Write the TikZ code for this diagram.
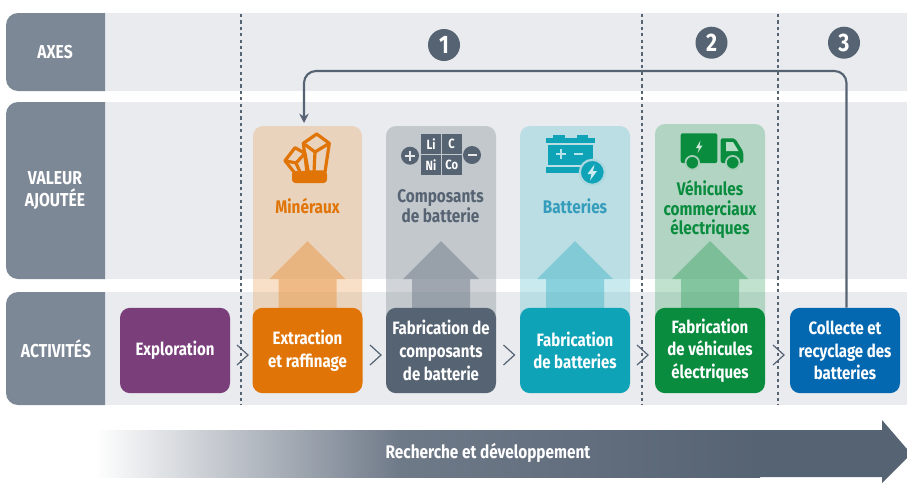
\documentclass[tikz,border=0pt]{standalone}
\usepackage{fontspec}
\setmainfont{Fira Sans}[FakeStretch=0.84]
\usetikzlibrary{arrows.meta}
\definecolor{bandbg}{HTML}{E9EBEE}
\definecolor{rowlab}{HTML}{7D8896}
\definecolor{slate}{HTML}{566372}
\definecolor{cpurple}{HTML}{7A3F7B}
\definecolor{corange}{HTML}{E07406}
\definecolor{cteal}{HTML}{0FA3B8}
\definecolor{cgreen}{HTML}{0A8C3F}
\definecolor{cblue}{HTML}{0468B1}
\definecolor{cmid}{HTML}{6F7A89}
\definecolor{tbat}{HTML}{359DBB}
\tikzset{
  x=0.75pt,y=-0.75pt,
  rowband/.style={fill=bandbg},
  rowlabel/.style={fill=rowlab},
  rowtext/.style={text=white,font=\fontsize{14}{16}\selectfont\bfseries,align=center,inner sep=0},
  actbox/.style={rounded corners=7.5pt,minimum width=82.5pt,minimum height=64pt,inner sep=0,text=white,
     font=\fontsize{13.4}{17}\selectfont\bfseries,align=center},
  panel/.style={rounded corners=7.5pt,fill opacity=.36},
  uparrow/.style={fill opacity=.5},
  valtext/.style={font=\fontsize{13.7}{14.8}\selectfont\bfseries,align=center,inner sep=0},
  sep/.style={draw=slate,line width=.8pt,dash pattern=on 2.4pt off 2.4pt},
  chev/.style={draw=slate,line width=.9pt,fill=none},
  numdot/.style={circle,fill=slate,minimum size=24pt,inner sep=0,text=white,font=\fontsize{19}{19}\selectfont\bfseries},
  loopline/.style={draw=slate,line width=1.6pt,rounded corners=9pt,-{Stealth[length=7pt,width=7pt]}},
}
\begin{document}
\begin{tikzpicture}
\useasboundingbox (0,0) rectangle (907,483);
\fill[white] (0,0) rectangle (907,483);
% row bands
\fill[rowband] (105,13) rectangle (907,91);
\fill[rowband] (105,102) rectangle (907,279);
\fill[rowband] (105,292) rectangle (907,405);
\fill[rowlabel] (105,13) [rounded corners=9pt] -- (6,13) -- (6,91) [sharp corners] -- (105,91) -- cycle;
\fill[rowlabel] (105,102) [rounded corners=9pt] -- (6,102) -- (6,279) [sharp corners] -- (105,279) -- cycle;
\fill[rowlabel] (105,292) [rounded corners=9pt] -- (6,292) -- (6,405) [sharp corners] -- (105,405) -- cycle;
\node[rowtext] (laxes) at (55,52) {AXES};
\node[rowtext] (lval) at (55,190.5) {VALEUR\\AJOUTÉE};
\node[rowtext] (lact) at (56,349) {ACTIVITÉS};
% panels and up arrows
\fill[panel,fill=corange!62] (253,126) rectangle (362,330);
\fill[panel,fill=slate!75] (386,126) rectangle (496,330);
\fill[panel,fill=cteal!62] (520,126) rectangle (630,330);
\fill[panel,fill=cgreen!70] (655,124) rectangle (765,330);
\foreach \cx/\col in {307.5/corange!75,441/slate!85,575/cteal!75,710/cgreen!75}{
  \fill[uparrow,fill=\col] (\cx,241) -- (\cx+38,279) -- (\cx+29,279) -- (\cx+29,330) -- (\cx-29,330) -- (\cx-29,279) -- (\cx-38,279) -- cycle;
}
% separators
\coordinate (s1a) at (241,14); \coordinate (s1b) at (241,405);
\coordinate (s2a) at (642,14); \coordinate (s2b) at (642,405);
\coordinate (s3a) at (778,14); \coordinate (s3b) at (778,405);
\draw[sep] (s1a) -- (s1b);
\draw[sep] (s2a) -- (s2b);
\draw[sep] (s3a) -- (s3b);
% activity boxes
\node[actbox,fill=cpurple] (expl) at (175,350.5) {Exploration};
\node[actbox,fill=corange] (extr) at (307.5,350.5) {Extraction\\et raffinage};
\node[actbox,fill=slate] (comp) at (441,350.5) {Fabrication de\\composants\\de batterie};
\node[actbox,fill=cteal] (batt) at (575,350.5) {Fabrication\\de batteries};
\node[actbox,fill=cgreen] (vehi) at (710,350.5) {Fabrication\\de véhicules\\électriques};
\node[actbox,fill=cblue] (coll) at (845,350.5) {Collecte et\\recyclage des\\batteries};
% chevrons
\foreach \xx in {237,370,503.5,637,773}{
  \draw[chev] (\xx,345) -- (\xx+11,355) -- (\xx,365);
}
% numbers
\node[numdot] (n1) at (444,45) {1};
\node[numdot] (n2) at (711.5,42.7) {2};
\node[numdot] (n3) at (844,42.7) {3};
% loop connector
\coordinate (ctop) at (846.5,71);
\coordinate (cmin) at (304,123);
\draw[loopline] (coll.north -| ctop) -- (ctop) -- (ctop -| cmin) -- (cmin);
% value labels
\node[valtext,text=corange] (tmin) at (307.5,206) {Minéraux};
\node[valtext,text=slate] (tcomp) at (440.5,206.5) {Composants\\de batterie};
\node[valtext,text=tbat] (tbatt) at (575,206.5) {Batteries};
\node[valtext,text=cgreen] (tveh) at (710,209.5) {Véhicules\\commerciaux\\électriques};
% mineral icon
\begin{scope}[draw=corange,line width=2.4pt,line join=round]
  \draw (316.7,134) -- (329.3,143.3) -- (325,172) -- (307,172) -- (303.3,143.3) -- cycle;
  \draw (303.3,143.3) -- (315,152) -- (329.3,143.3);
  \draw (315,152) -- (314,172);
  \draw (295,147.7) -- (305,153.3) -- (308.3,172) -- (295,173.3) -- (285,160.7) -- cycle;
  \draw (285,160.7) -- (296,163) -- (305,153.3);
  \draw (296,163) -- (300,172);
  \fill[corange,rounded corners=2.5pt] (292,171) rectangle (327,183);
\end{scope}
% Li C Ni Co icon
\begin{scope}
  \fill[slate] (421,133.5) rectangle (441,154);
  \fill[slate] (442,133.5) rectangle (461.5,154);
  \fill[slate] (421,155) rectangle (441,175);
  \fill[slate] (442,155) rectangle (461.5,175);
  \foreach \cx/\cy/\t/\nm in {431/143.7/Li/cli,451.7/143.7/C/cc,431/165/Ni/cni,451.7/165/Co/cco}{
    \node[text=white,inner sep=0,font=\fontsize{10}{10}\selectfont\bfseries] (\nm) at (\cx,\cy) {\t};
  }
  \fill[slate] (410,155.7) circle (9);
  \fill[slate] (472,155) circle (9);
  \fill[white!85!slate] (405,154.7) rectangle (415,156.7);
  \fill[white!85!slate] (409,150.7) rectangle (411,160.7);
  \fill[white!85!slate] (467.5,154) rectangle (476.5,156);
\end{scope}
% battery icon
\begin{scope}
  \fill[cteal] (546,138.3) rectangle (595,142.7);
  \fill[cteal] (552.7,135) rectangle (565,138.3);
  \fill[cteal] (576.7,135) rectangle (588,138.3);
  \fill[cteal] (548.3,145) rectangle (592.7,165);
  \fill[cteal] (546,167.3) rectangle (582,172.7);
  \fill[white!70!cteal] (556,152.7) rectangle (566,155.3);
  \fill[white!70!cteal] (559.7,149) rectangle (562.3,159);
  \fill[white!70!cteal] (574,152.7) rectangle (583,155.3);
  \fill[cteal,draw=cteal!28!bandbg,line width=1.6pt] (592.3,172.3) circle (12.5);
  \fill[white!80!cteal] (594.5,164.5) -- (587.5,174) -- (591.5,174) -- (590,180.5) -- (597,171) -- (593,171) -- cycle;
\end{scope}
% truck icon
\begin{scope}
  \fill[cgreen,rounded corners=1.5pt] (680.7,133.3) rectangle (717.3,163);
  \fill[cgreen,rounded corners=1.5pt] (720.7,138.3) -- (735,138.3) -- (743.3,151.7) -- (743.3,163) -- (720.7,163) -- cycle;
  \fill[white!70!cgreen] (726,142) -- (733,142) -- (738.5,151) -- (726,151) -- cycle;
  \fill[cgreen,draw=cgreen!30!bandbg,line width=1.3pt] (692.3,162.7) circle (6.8);
  \fill[cgreen,draw=cgreen!30!bandbg,line width=1.3pt] (732.7,162.7) circle (6.8);
  \fill[white!80!cgreen] (700.5,140.5) -- (696,148) -- (699,148) -- (697.5,153) -- (702.5,145.5) -- (699.5,145.5) -- cycle;
\end{scope}
% bottom arrow
\shade[left color=white,right color=cmid] (95,430) rectangle (400,477);
\shade[left color=cmid,right color=slate] (399.5,430) rectangle (760,477);
\fill[slate] (759.5,430) -- (882,430) -- (882,420) -- (907,449) -- (907,458) -- (882,483) -- (882,477) -- (759.5,477) -- cycle;
\node[text=white,font=\fontsize{13.7}{15}\selectfont\bfseries,inner sep=0] (rd) at (488,453) {Recherche et développement};
\end{tikzpicture}
\end{document}
